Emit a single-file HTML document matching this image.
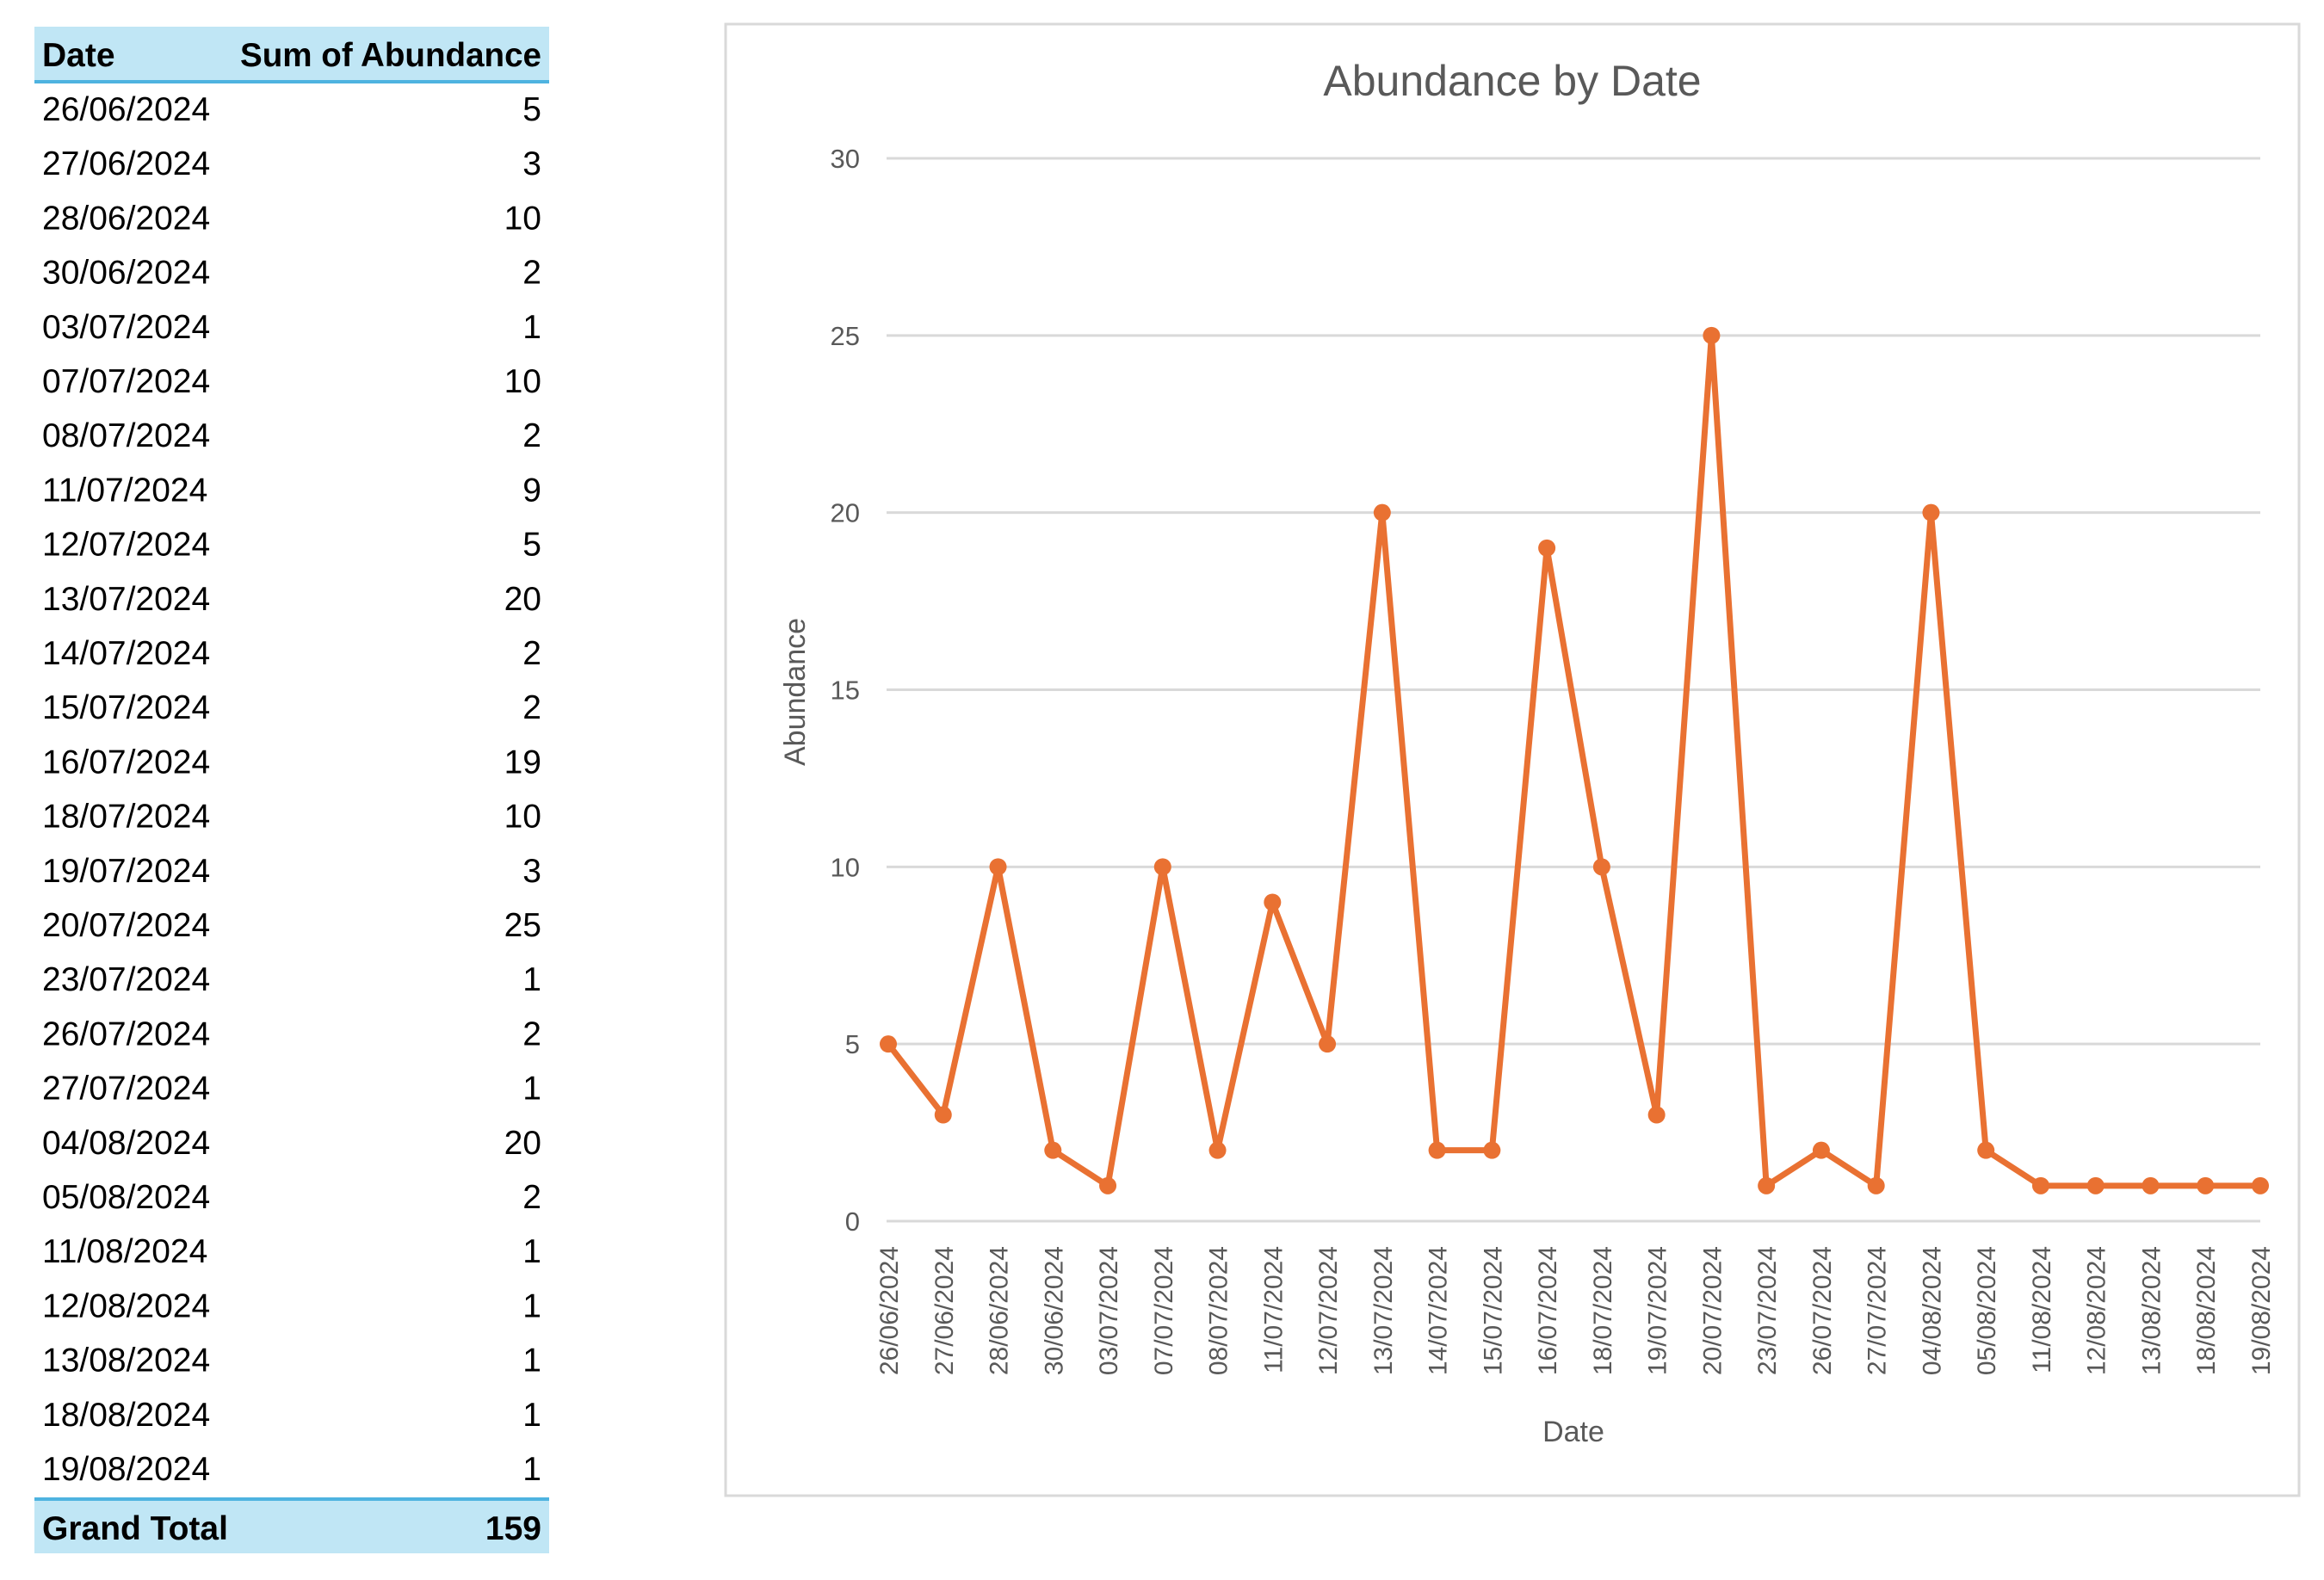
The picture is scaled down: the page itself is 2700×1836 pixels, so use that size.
<!DOCTYPE html>
<html><head><meta charset="utf-8"><style>
html,body{margin:0;padding:0;background:#fff;}
svg{display:block;font-family:"Liberation Sans",sans-serif;}
</style></head><body>
<svg id="root" width="2700" height="1836" viewBox="0 0 2700 1836" xmlns="http://www.w3.org/2000/svg">
  <g id="table">
    <rect x="40" y="31" width="598" height="62" fill="#C0E6F5"/>
    <rect x="40" y="93" width="598" height="4" fill="#4EB3E0"/>
    <text x="49" y="77" font-size="39" font-weight="bold">Date</text>
    <text x="629" y="77" font-size="39" font-weight="bold" text-anchor="end" textLength="350" lengthAdjust="spacingAndGlyphs">Sum of Abundance</text>
  </g>
  <rect x="843" y="28" width="1828" height="1710" fill="#fff" stroke="#D9D9D9" stroke-width="3"/>
  <text x="1757" y="111" font-size="50" fill="#595959" text-anchor="middle">Abundance by Date</text>
  <g id="grid"></g>
  <g id="yticks"></g>
  <g id="xticks"></g>
  <g id="series"></g>
  <text x="1828" y="1675" font-size="34" fill="#595959" text-anchor="middle">Date</text>
  <text transform="translate(935,804) rotate(-90)" font-size="34" fill="#595959" text-anchor="middle">Abundance</text>
</svg>
<script>
const categories = ["26/06/2024","27/06/2024","28/06/2024","30/06/2024","03/07/2024","07/07/2024","08/07/2024","11/07/2024","12/07/2024","13/07/2024","14/07/2024","15/07/2024","16/07/2024","18/07/2024","19/07/2024","20/07/2024","23/07/2024","26/07/2024","27/07/2024","04/08/2024","05/08/2024","11/08/2024","12/08/2024","13/08/2024","18/08/2024","19/08/2024"];
const abundance = [5,3,10,2,1,10,2,9,5,20,2,2,19,10,3,25,1,2,1,20,2,1,1,1,1,1];
const yTicks = [0,5,10,15,20,25,30];
const grandTotal = "159";

const NS = "http://www.w3.org/2000/svg";
const X0 = 1032, X1 = 2626, Y0 = 1419, Y30 = 184, GL = 1030, GR = 2626;
function xScale(i){ return X0 + (X1 - X0) * i / (categories.length - 1); }
function yScale(v){ return Y0 - (Y0 - Y30) * v / 30; }
function mk(tag, attrs, parent){ const e = document.createElementNS(NS, tag); for (const k in attrs) e.setAttribute(k, attrs[k]); parent.appendChild(e); return e; }

const table = document.getElementById('table');
categories.forEach((c, i) => {
  const y = 140 + i * 63.2;
  const t1 = mk('text', {x: 49, y: y, 'font-size': 39}, table);
  t1.textContent = c;
  
  
  const t2 = mk('text', {x: 629, y: y, 'font-size': 39, 'text-anchor': 'end'}, table);
  t2.textContent = abundance[i];
  
  
});
const gtY = 1743;
const gbg = mk('rect', {x: 40, y: gtY, width: 598, height: 62, fill: '#C0E6F5'}, table);


const gb = mk('rect', {x: 40, y: gtY - 3, width: 598, height: 4, fill: '#4EB3E0'}, table);


const g1 = mk('text', {x: 49, y: gtY + 46, 'font-size': 39, 'font-weight': 'bold'}, table);
g1.textContent = 'Grand Total';


const g2 = mk('text', {x: 629, y: gtY + 46, 'font-size': 39, 'font-weight': 'bold', 'text-anchor': 'end'}, table);
g2.textContent = grandTotal;



const grid = document.getElementById('grid'), yt = document.getElementById('yticks');
yTicks.forEach(v => {
  const l = mk('line', {x1: GL, x2: GR, y1: yScale(v), y2: yScale(v), stroke: '#D9D9D9', 'stroke-width': 3}, grid);
  
  
  const t = mk('text', {x: 999, y: yScale(v) + 11, 'font-size': 31, fill: '#595959', 'text-anchor': 'end'}, yt);
  t.textContent = v;
  
  
});
const xt = document.getElementById('xticks');
categories.forEach((c, i) => {
  const x = xScale(i) + 11;
  const t = mk('text', {transform: `translate(${x},1448) rotate(-90)`, 'font-size': 30, fill: '#595959', 'text-anchor': 'end'}, xt);
  t.textContent = c;
  
  
});
const s = document.getElementById('series');
const pts = abundance.map((v, i) => xScale(i) + ',' + yScale(v)).join(' ');
const pl = mk('polyline', {points: pts, fill: 'none', stroke: '#E97132', 'stroke-width': 7, 'stroke-linejoin': 'round'}, s);


abundance.forEach((v, i) => {
  const c = mk('circle', {cx: xScale(i), cy: yScale(v), r: 10, fill: '#E97132'}, s);
  
  
});
</script>
</body></html>
